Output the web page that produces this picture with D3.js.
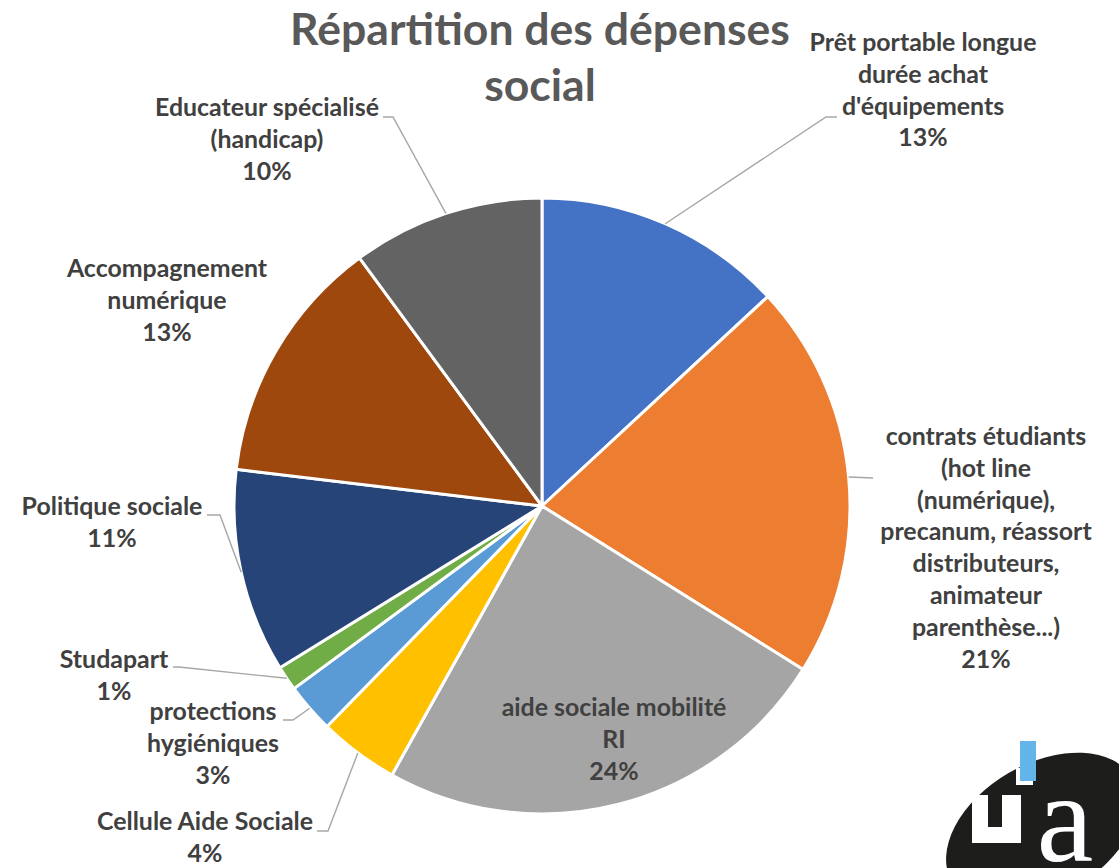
<!DOCTYPE html>
<html><head><meta charset="utf-8">
<script src="https://cdn.jsdelivr.net/npm/d3@7"></script>
<style>html,body{margin:0;padding:0;background:#fff;}svg{display:block;}</style>
</head><body>
<svg id="chart" width="1119" height="868"></svg>
<script>
// ---- data ----
const titleLines = ["Répartition des dépenses", "social"];
const categories = [
  ["Prêt portable longue", "durée achat", "d'équipements"],
  ["contrats étudiants", "(hot line", "(numérique),", "precanum, réassort", "distributeurs,", "animateur", "parenthèse...)"],
  ["aide sociale mobilité", "RI"],
  ["Cellule Aide Sociale"],
  ["protections", "hygiéniques"],
  ["Studapart"],
  ["Politique sociale"],
  ["Accompagnement", "numérique"],
  ["Educateur spécialisé", "(handicap)"]
];
const values = [13.1, 20.8, 24.2, 4.2, 2.6, 1.3, 10.7, 13.0, 10.1];
const colors = ["#4472C4", "#ED7D31", "#A5A5A5", "#FFC000", "#5B9BD5", "#70AD47", "#264478", "#9E480E", "#636363"];

// ---- layout (label placement, px) ----
const labelLayout = [
  {x: 923, y: 51,  leader: [[826,117],[837,117]]},
  {x: 986, y: 445, leader: [[873,478]]},
  {x: 614, y: 716, leader: null},
  {x: 205, y: 830, leader: [[328,831],[317,831]]},
  {x: 213, y: 720, leader: [[293,720],[283,720]]},
  {x: 114, y: 668, leader: [[179,667],[173,667]]},
  {x: 112, y: 515, leader: [[220,515],[207,515]]},
  {x: 167, y: 277, leader: null},
  {x: 267, y: 116, leader: [[393,117],[383,117]]}
];
const cx = 542, cy = 506, R = 308;

const svg = d3.select("#chart");
const FONT = "Lato, 'Open Sans', sans-serif";

// fit font sizes to the reference's text widths
const ctx = document.createElement("canvas").getContext("2d");
function fitSize(str, target) {
  ctx.font = "bold 100px " + FONT;
  return 100 * target / ctx.measureText(str).width;
}
const labelSize = fitSize("Prêt portable longue", 227);
const titleSize = fitSize("Répartition des dépenses", 500);
const lineH = 31.8;

// title
const title = svg.append("text")
  .attr("text-anchor", "middle")
  .attr("font-family", FONT).attr("font-weight", "bold")
  .attr("font-size", titleSize).attr("fill", "#595959");
titleLines.forEach((t, i) => title.append("tspan").attr("x", 540).attr("y", 45 + i * 55.5).text(t));

// pie
const total = d3.sum(values);
const pie = d3.pie().sort(null).value(d => d)(values);
const arc = d3.arc().innerRadius(0).outerRadius(R);
const g = svg.append("g").attr("transform", `translate(${cx},${cy})`);
g.selectAll("path").data(pie).join("path")
  .attr("d", arc)
  .attr("fill", (d, i) => colors[i])
  .attr("stroke", "#fff").attr("stroke-width", 3).attr("stroke-linejoin", "round");

// leaders
const line = d3.line();
pie.forEach((d, i) => {
  const L = labelLayout[i];
  if (!L.leader) return;
  const a = (d.startAngle + d.endAngle) / 2;
  const p0 = [cx + R * Math.sin(a), cy - R * Math.cos(a)];
  svg.append("path")
    .attr("d", line([p0, ...L.leader]))
    .attr("fill", "none").attr("stroke", "#A6A6A6").attr("stroke-width", 1.4);
});

// labels
pie.forEach((d, i) => {
  const L = labelLayout[i];
  const lines = categories[i].concat([Math.round(values[i] / total * 100) + "%"]);
  const t = svg.append("text")
    .attr("text-anchor", "middle")
    .attr("font-family", FONT).attr("font-weight", "bold")
    .attr("font-size", labelSize).attr("fill", "#404040");
  lines.forEach((s, k) => t.append("tspan").attr("x", L.x).attr("y", L.y + k * lineH).text(s));
});

// logo (bottom right)
const logo = svg.append("g");
logo.append("ellipse").attr("cx", 1042).attr("cy", 830).attr("rx", 104).attr("ry", 66)
  .attr("transform", "rotate(-30 1042 830)").attr("fill", "#1d1d1b");
logo.append("rect").attr("x", 1016).attr("y", 768).attr("width", 17).attr("height", 17).attr("fill", "#fff");
logo.append("rect").attr("x", 1020).attr("y", 741).attr("width", 16).attr("height", 40).attr("fill", "#63B4E8");
logo.append("path").attr("d", "M972,795 H988 V827 H1002 V795 H1021 V843 H972 Z").attr("fill", "#fff");
logo.append("text").attr("x", 1065).attr("y", 861).attr("text-anchor", "middle")
  .attr("font-family", "'Liberation Serif', serif").attr("font-size", 128).attr("fill", "#fff").text("a");
</script>
</body></html>
